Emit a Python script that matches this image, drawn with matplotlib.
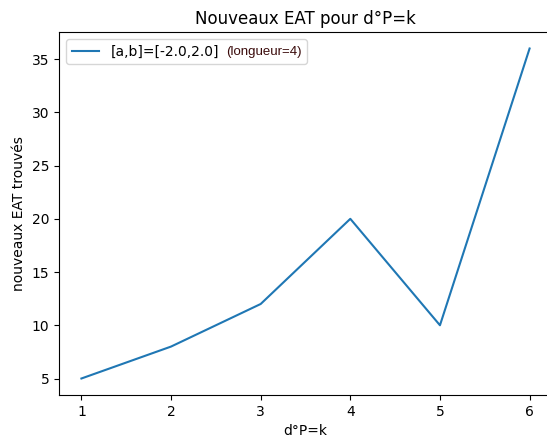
import matplotlib
matplotlib.use('Agg')
from matplotlib import pyplot as plt
from matplotlib.offsetbox import TextArea, HPacker

degres = [1, 2, 3, 4, 5, 6]
nouveaux_eat = [5, 8, 12, 20, 10, 36]
label_serie = '[a,b]=[-2.0,2.0]'
label_longueur = '(longueur=4)'

fig = plt.figure(figsize=(5.47, 4.37), dpi=100)
ax = fig.add_axes([59/547, 1 - 395/437, 493/547, 363/437])

ax.plot(degres, nouveaux_eat, color='#1f77b4', label=label_serie)
ax.set_title('Nouveaux EAT pour d°P=k', fontsize=12)
ax.set_xlabel('d°P=k')
ax.set_ylabel('nouveaux EAT trouvés')
leg = ax.legend(loc='upper left')

# texte annexe ajouté dans la ligne de légende
ligne = leg._legend_handle_box.get_children()[0].get_children()[0]
extra = TextArea(label_longueur, textprops=dict(
    fontsize=9.5, color='#3a0a0a',
    family=['Liberation Sans Narrow', 'Liberation Sans', 'DejaVu Sans']))
enfants = ligne.get_children()
groupe = HPacker(children=[enfants[1], extra], sep=5, align='baseline')
groupe.set_figure(fig)
enfants[1] = groupe

fig.savefig('out.png', dpi=100)
